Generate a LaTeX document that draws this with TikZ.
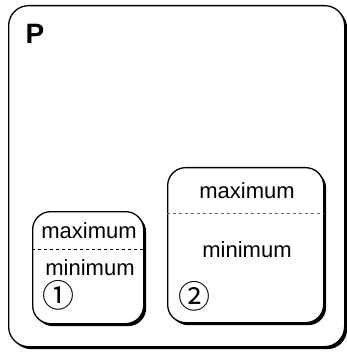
\documentclass[tikz,border=0pt]{standalone}
\usepackage{fontspec}
\setmainfont{Liberation Sans}
\newfontfamily\symfont{Noto Sans CJK SC}
\usetikzlibrary{shadows}
\begin{document}
\begin{tikzpicture}[x=1pt,y=-1pt,
  box/.style={draw=black, line width=1.3pt, fill=white, rounded corners=18pt,
    drop shadow={shadow xshift=2.5pt, shadow yshift=-2.5pt, opacity=1, fill=black}},
  lbl/.style={font=\fontsize{22}{25}\selectfont, inner sep=0pt},
  num/.style={font=\symfont\fontsize{32}{34}\selectfont, inner sep=0pt},
  sep/.style={dash pattern=on 3pt off 3pt, line width=0.8pt}]
\path[use as bounding box] (0,0) rectangle (346,352);
\node[box, rounded corners=20pt, minimum width=336pt, minimum height=341pt, anchor=north west] (P) at (8,5) {};
\node[font=\bfseries\fontsize{28}{32}\selectfont, inner sep=0pt] (ptitle) at (35,34) {P};
% box 1
\node[box, minimum width=111pt, minimum height=112pt, anchor=north west] (b1) at (32,211) {};
\coordinate (d1) at (0,249);
\draw[sep] (b1.west |- d1) -- (b1.east |- d1);
\node[lbl] (max1) at (89,231) {maximum};
\node[lbl] (min1) at (90,268) {minimum};
\node[num] (n1) at (58,295.5) {①};
% box 2
\node[box, minimum width=156pt, minimum height=155pt, anchor=north west] (b2) at (167,167) {};
\coordinate (d2) at (0,213);
\draw[sep, black!60] (b2.west |- d2) -- (b2.east |- d2);
\node[lbl] (max2) at (247,191) {maximum};
\node[lbl] (min2) at (247,250) {minimum};
\node[num] (n2) at (194,296) {②};
\end{tikzpicture}
\end{document}
